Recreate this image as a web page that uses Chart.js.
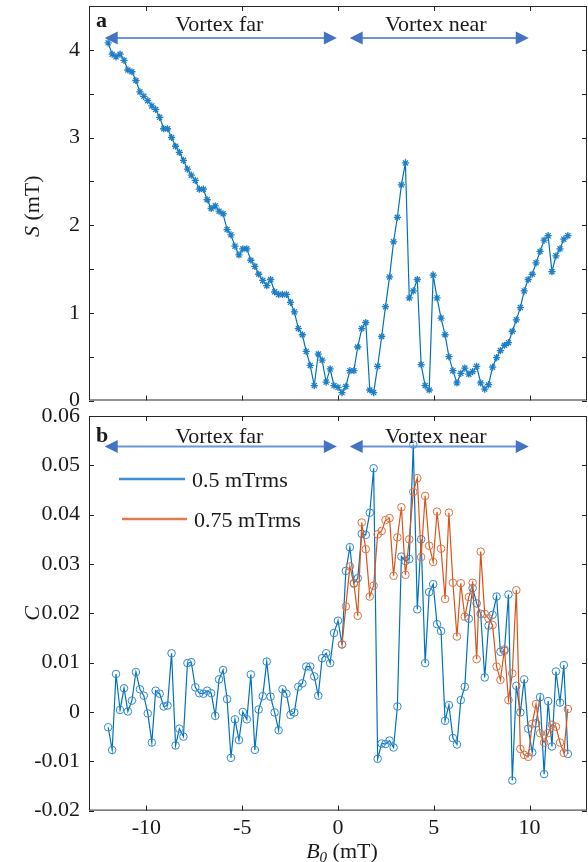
<!DOCTYPE html>
<html>
<head>
<meta charset="utf-8">
<script src="https://cdn.jsdelivr.net/npm/chart.js@4.4.1/dist/chart.umd.min.js"></script>
<style>
  html, body { margin: 0; padding: 0; background: #fff; }
  #wrap { position: relative; width: 588px; height: 862px; overflow: hidden; }
  #wrap canvas { position: absolute; left: 0; }
</style>
</head>
<body>
<div id="wrap">
  <canvas id="chartS" width="588" height="420" style="top:0"></canvas>
  <canvas id="chartC" width="588" height="466" style="top:396px"></canvas>
</div>
<script>
// B0 field steps (mT), shared by both panels
const bField = [
  -12.00, -11.79, -11.59, -11.38, -11.17, -10.97, -10.76, -10.55, -10.34, -10.14,
  -9.93, -9.72, -9.52, -9.31, -9.10, -8.90, -8.69, -8.48, -8.28, -8.07,
  -7.86, -7.66, -7.45, -7.24, -7.03, -6.83, -6.62, -6.41, -6.21, -6.00,
  -5.79, -5.59, -5.38, -5.17, -4.97, -4.76, -4.55, -4.34, -4.14, -3.93,
  -3.72, -3.52, -3.31, -3.10, -2.90, -2.69, -2.48, -2.28, -2.07, -1.86,
  -1.66, -1.45, -1.24, -1.03, -0.83, -0.62, -0.41, -0.21, 0.00, 0.21,
  0.41, 0.62, 0.83, 1.03, 1.24, 1.45, 1.66, 1.86, 2.07, 2.28,
  2.48, 2.69, 2.90, 3.10, 3.31, 3.52, 3.72, 3.93, 4.14, 4.34,
  4.55, 4.76, 4.97, 5.17, 5.38, 5.59, 5.79, 6.00, 6.21, 6.41,
  6.62, 6.83, 7.03, 7.24, 7.45, 7.66, 7.86, 8.07, 8.28, 8.48,
  8.69, 8.90, 9.10, 9.31, 9.52, 9.72, 9.93, 10.14, 10.34, 10.55,
  10.76, 10.97, 11.17, 11.38, 11.59, 11.79, 12.00
];

// panel a: S (mT)
const sValues = [
  4.08, 3.95, 3.92, 3.95, 3.88, 3.77, 3.75, 3.65, 3.52, 3.47,
  3.42, 3.36, 3.32, 3.23, 3.10, 3.10, 3.00, 2.90, 2.83, 2.74,
  2.64, 2.57, 2.51, 2.41, 2.41, 2.29, 2.19, 2.22, 2.16, 2.13,
  1.95, 1.89, 1.76, 1.66, 1.73, 1.73, 1.60, 1.53, 1.44, 1.37,
  1.31, 1.38, 1.24, 1.21, 1.21, 1.21, 1.12, 1.01, 0.82, 0.75,
  0.56, 0.40, 0.17, 0.53, 0.46, 0.21, 0.36, 0.17, 0.15, 0.09,
  0.16, 0.34, 0.34, 0.61, 0.82, 0.89, 0.12, 0.09, 0.39, 0.73,
  1.07, 1.41, 1.81, 2.09, 2.46, 2.71, 1.17, 1.25, 1.38, 0.41,
  0.17, 0.12, 1.43, 1.17, 0.94, 0.75, 0.50, 0.34, 0.20, 0.31,
  0.37, 0.30, 0.33, 0.39, 0.20, 0.13, 0.18, 0.38, 0.49, 0.57,
  0.63, 0.66, 0.79, 0.92, 1.06, 1.25, 1.38, 1.44, 1.57, 1.70,
  1.83, 1.88, 1.47, 1.65, 1.73, 1.84, 1.88
];

// panel b: C at 0.5 mTrms (full sweep)
const c05 = [
  -0.0031, -0.0077, 0.0077, 0.0004, 0.0048, 0.0001, 0.0023, 0.0081, 0.0046, 0.0033,
  -0.0003, -0.0062, 0.0043, 0.0037, 0.0011, 0.0013, 0.0119, -0.0068, -0.0034, -0.0050,
  0.0099, 0.0101, 0.0050, 0.0038, 0.0037, 0.0043, 0.0038, -0.0008, 0.0066, 0.0085,
  0.0026, -0.0093, -0.0015, -0.0057, 0.0000, -0.0015, 0.0076, -0.0077, 0.0005, 0.0032,
  0.0102, 0.0031, -0.0001, -0.0037, 0.0046, 0.0037, -0.0006, -0.0001, 0.0051, 0.0058,
  0.0092, 0.0092, 0.0072, 0.0033, 0.0109, 0.0119, 0.0099, 0.0160, 0.0185, 0.0137,
  0.0286, 0.0334, 0.0261, 0.0271, 0.0361, 0.0359, 0.0404, 0.0494, -0.0095, -0.0064,
  -0.0065, -0.0058, -0.0072, 0.0011, 0.0315, 0.0306, 0.0310, 0.0542, 0.0208, 0.0350,
  0.0099, 0.0243, 0.0259, 0.0178, 0.0164, -0.0018, 0.0014, -0.0053, -0.0066, 0.0024,
  0.0051, 0.0189, 0.0251, 0.0220, 0.0199, 0.0070, 0.0175, 0.0197, 0.0234, 0.0122,
  0.0124, 0.0238, -0.0139, 0.0053, -0.0001, 0.0066, -0.0034, -0.0082, -0.0023, 0.0030,
  -0.0126, 0.0022, -0.0070, 0.0082, 0.0019, 0.0095, -0.0085
];

// panel b: C at 0.75 mTrms (starts at B0 = 0.21 mT)
const c075Start = 59;
const c075 = [
  0.0137, 0.0214, 0.0295, 0.0260, 0.0195, 0.0384, 0.0330, 0.0234, 0.0256, 0.0360,
  0.0367, 0.0389, 0.0393, 0.0276, 0.0354, 0.0415, 0.0278, 0.0350, 0.0446, 0.0474,
  0.0314, 0.0438, 0.0337, 0.0304, 0.0406, 0.0331, 0.0229, 0.0404, 0.0262, 0.0153,
  0.0261, 0.0193, 0.0233, 0.0262, 0.0107, 0.0325, 0.0199, 0.0190, 0.0176, 0.0092,
  0.0065, 0.0127, 0.0024, 0.0078, 0.0247, -0.0075, -0.0087, -0.0091, -0.0024, 0.0016,
  -0.0043, -0.0062, -0.0043, -0.0026, -0.0030, -0.0062, -0.0083, 0.0006
];

const xTicks = [-10, -5, 0, 5, 10];
const seriesNames = ['0.5 mTrms', '0.75 mTrms'];
const regionNames = ['Vortex far', 'Vortex near'];

const BLUE = '#0072BD';
const ORANGE = '#D95319';
const INK = '#1a1a1a';
const FONT = '"Liberation Serif", "Times New Roman", serif';

Chart.defaults.font.family = FONT;
Chart.defaults.font.size = 22;
Chart.defaults.color = INK;
Chart.defaults.animation = false;

function pts(xs, ys) {
  return ys.map((v, i) => ({ x: xs[i], y: v }));
}

function drawArrow(ctx, x1, x2, y) {
  const head = 13, half = 6.5;
  ctx.save();
  ctx.strokeStyle = '#6b95d9';
  ctx.lineWidth = 2;
  ctx.beginPath();
  ctx.moveTo(x1 + head - 1, y);
  ctx.lineTo(x2 - head + 1, y);
  ctx.stroke();
  ctx.fillStyle = '#4472C4';
  ctx.beginPath();
  ctx.moveTo(x1, y); ctx.lineTo(x1 + head, y - half); ctx.lineTo(x1 + head, y + half); ctx.closePath();
  ctx.moveTo(x2, y); ctx.lineTo(x2 - head, y - half); ctx.lineTo(x2 - head, y + half); ctx.closePath();
  ctx.fill();
  ctx.restore();
}

// MATLAB-style box with inward ticks, region arrows, panel letter and axis titles
const matlabFrame = {
  id: 'matlabFrame',
  afterDraw(chart, args, o) {
    const { ctx, chartArea: a, scales: { x, y } } = chart;
    ctx.save();
    ctx.strokeStyle = '#262626';
    ctx.lineWidth = 1;
    ctx.strokeRect(a.left + 0.5, a.top + 0.5, a.right - a.left - 1, a.bottom - a.top - 1);
    const t = 5;
    ctx.beginPath();
    x.ticks.forEach(tk => {
      const px = Math.round(x.getPixelForValue(tk.value)) + 0.5;
      ctx.moveTo(px, a.bottom); ctx.lineTo(px, a.bottom - t);
      ctx.moveTo(px, a.top); ctx.lineTo(px, a.top + t);
    });
    y.ticks.forEach(tk => {
      const py = Math.round(y.getPixelForValue(tk.value)) + 0.5;
      ctx.moveTo(a.left, py); ctx.lineTo(a.left + t, py);
      ctx.moveTo(a.right, py); ctx.lineTo(a.right - t, py);
    });
    ctx.stroke();

    // arrows + region labels
    ctx.fillStyle = INK;
    ctx.font = '22px ' + FONT;
    ctx.textAlign = 'center';
    ctx.textBaseline = 'alphabetic';
    o.regions.forEach(r => {
      drawArrow(ctx, x.getPixelForValue(r.from), x.getPixelForValue(r.to), y.getPixelForValue(r.arrowY));
      ctx.fillText(r.name, x.getPixelForValue(r.textX), y.getPixelForValue(r.textY));
    });

    // panel letter
    ctx.font = 'bold 22px ' + FONT;
    ctx.textAlign = 'left';
    ctx.textBaseline = 'alphabetic';
    ctx.fillText(o.letter, a.left + 7, a.top + o.letterDy);

    // y title: italic symbol + units, rotated
    ctx.save();
    ctx.translate(33, (a.top + a.bottom) / 2 + o.yTitleDy);
    ctx.rotate(-Math.PI / 2);
    ctx.textBaseline = 'middle';
    ctx.font = 'italic 22px ' + FONT;
    const w1 = ctx.measureText(o.ySym).width;
    ctx.font = '22px ' + FONT;
    const w2 = ctx.measureText(o.yUnit).width;
    let sx = -(w1 + w2) / 2;
    ctx.font = 'italic 22px ' + FONT;
    ctx.fillText(o.ySym, sx, 0);
    ctx.font = '22px ' + FONT;
    ctx.fillText(o.yUnit, sx + w1, 0);
    ctx.restore();

    // legend (panel b only)
    if (o.legend) {
      o.legend.forEach(l => {
        ctx.strokeStyle = l.color;
        ctx.lineWidth = 2.5;
        ctx.beginPath();
        ctx.moveTo(l.x1, a.top + l.dy); ctx.lineTo(l.x2, a.top + l.dy);
        ctx.stroke();
        ctx.font = '22px ' + FONT;
        ctx.textBaseline = 'middle';
        ctx.fillStyle = INK;
        ctx.fillText(l.text, l.x2 + 7, a.top + l.dy + 2);
      });
    }

    // x title B0 (mT)
    if (o.xTitle) {
      const cy = chart.height - 4;
      ctx.textBaseline = 'alphabetic';
      ctx.font = 'italic 22px ' + FONT;
      const wb = ctx.measureText('B').width;
      ctx.font = 'italic 15px ' + FONT;
      const ws = ctx.measureText('0').width;
      ctx.font = '22px ' + FONT;
      const wu = ctx.measureText(' (mT)').width;
      let bx = (a.left + a.right) / 2 - (wb + ws + wu) / 2 + 4;
      ctx.font = 'italic 22px ' + FONT;
      ctx.fillText('B', bx, cy);
      ctx.font = 'italic 15px ' + FONT;
      ctx.fillText('0', bx + wb, cy + 4);
      ctx.font = '22px ' + FONT;
      ctx.fillText(' (mT)', bx + wb + ws, cy);
    }
    ctx.restore();
  }
};

function noPad(s) {
  s.paddingTop = 0; s.paddingBottom = 0; s.paddingLeft = 0; s.paddingRight = 0;
}

function xScale(showLabels, height) {
  return {
    type: 'linear', min: -13, max: 13,
    afterBuildTicks: s => { s.ticks = xTicks.map(v => ({ value: v })); },
    afterFit: s => { s.height = height; noPad(s); },
    grid: { display: false, drawTicks: false },
    border: { display: false },
    ticks: { display: showLabels, padding: 4, maxRotation: 0, callback: v => String(v) }
  };
}

new Chart(document.getElementById('chartS'), {
  type: 'line',
  data: {
    datasets: [{
      data: pts(bField, sValues),
      borderColor: BLUE, borderWidth: 1.2,
      pointStyle: 'star', pointRadius: 3.6, pointBorderWidth: 1.3,
      pointBorderColor: '#1f7fc6', pointBackgroundColor: BLUE,
      tension: 0
    }]
  },
  options: {
    responsive: false,
    layout: { autoPadding: false, padding: { top: 6, right: 1, left: 0, bottom: 0 } },
    plugins: {
      legend: { display: false }, tooltip: { enabled: false },
      matlabFrame: {
        letter: 'a', letterDy: 21, ySym: 'S', yUnit: ' (mT)', yTitleDy: 3,
        regions: [
          { name: regionNames[0], from: -12.18, to: -0.06, arrowY: 4.135, textX: -6.2, textY: 4.21 },
          { name: regionNames[1], from: 0.61, to: 9.96, arrowY: 4.135, textX: 5.1, textY: 4.21 }
        ]
      }
    },
    scales: {
      x: xScale(false, 19.5),
      y: {
        min: 0, max: 4.5,
        afterFit: s => { s.width = 89; noPad(s); },
        grid: { display: false, drawTicks: false },
        border: { display: false },
        ticks: { stepSize: 0.5, padding: 9, callback: v => Number.isInteger(v) ? String(v) : '' }
      }
    }
  },
  plugins: [matlabFrame]
});

new Chart(document.getElementById('chartC'), {
  type: 'line',
  data: {
    datasets: [
      {
        label: seriesNames[0],
        data: pts(bField, c05),
        borderColor: BLUE, borderWidth: 1.2, order: 2,
        pointStyle: 'circle', pointRadius: 3.8, pointBorderWidth: 1,
        pointBorderColor: '#2f8ad0', pointBackgroundColor: 'rgba(0,0,0,0)',
        tension: 0
      },
      {
        label: seriesNames[1],
        data: pts(bField.slice(c075Start), c075),
        borderColor: ORANGE, borderWidth: 1.2, order: 1,
        pointStyle: 'circle', pointRadius: 3.8, pointBorderWidth: 1,
        pointBorderColor: '#e0703f', pointBackgroundColor: 'rgba(0,0,0,0)',
        tension: 0
      }
    ]
  },
  options: {
    responsive: false,
    layout: { autoPadding: false, padding: { top: 20, right: 1, left: 0, bottom: 0 } },
    plugins: {
      legend: { display: false }, tooltip: { enabled: false },
      matlabFrame: {
        letter: 'b', letterDy: 26, ySym: 'C', yUnit: '', yTitleDy: 0,
        xTitle: true,
        regions: [
          { name: regionNames[0], from: -12.18, to: -0.06, arrowY: 0.0538, textX: -6.2, textY: 0.0546 },
          { name: regionNames[1], from: 0.61, to: 9.96, arrowY: 0.0538, textX: 5.1, textY: 0.0546 }
        ],
        legend: [
          { text: seriesNames[0], color: '#3a8fd6', x1: 119, x2: 185, dy: 63 },
          { text: seriesNames[1], color: '#e07b4f', x1: 122, x2: 187, dy: 103 }
        ]
      }
    },
    scales: {
      x: xScale(true, 51.4),
      y: {
        min: -0.02, max: 0.06,
        afterFit: s => { s.width = 89; noPad(s); },
        grid: { display: false, drawTicks: false },
        border: { display: false },
        ticks: { stepSize: 0.01, padding: 9, callback: v => Math.abs(v) < 1e-9 ? '0' : v.toFixed(2) }
      }
    }
  },
  plugins: [matlabFrame]
});
</script>
</body>
</html>
